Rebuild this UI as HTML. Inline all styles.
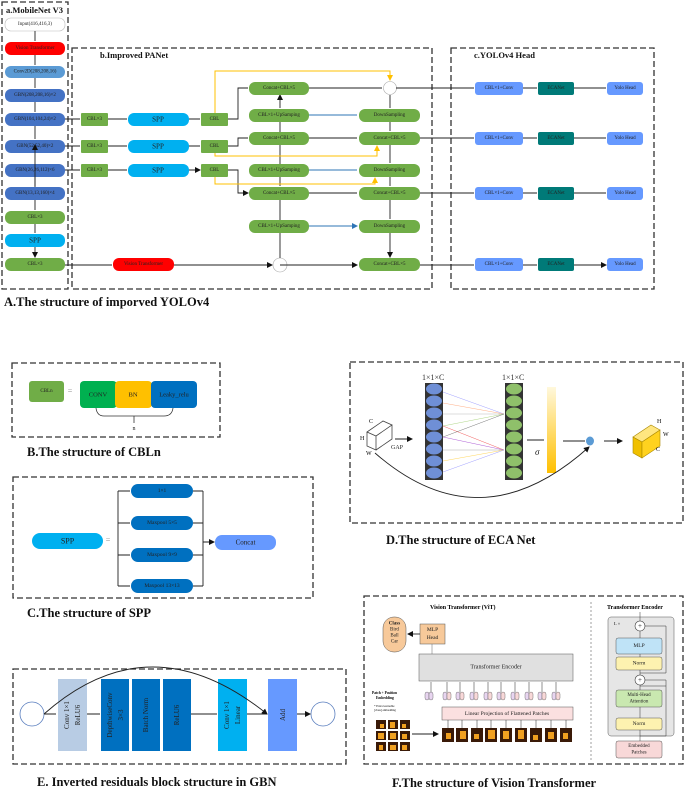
<!DOCTYPE html>
<html><head><meta charset="utf-8"><style>
html,body{margin:0;padding:0;background:#fff}
svg{display:block}
text{font-family:"Liberation Serif",serif}
.t{font-size:5px;fill:#222;text-anchor:middle;dominant-baseline:central}
.cap{font-size:12.5px;font-weight:bold;fill:#111}
.ttl{font-size:8.5px;font-weight:bold;fill:#111}
.d{fill:none;stroke:#333;stroke-width:1.3;stroke-dasharray:6,3}
.k{stroke:#222;stroke-width:0.9;fill:none}
.y{stroke:#ffc000;stroke-width:1;fill:none}
.b{stroke:#2e75b6;stroke-width:1;fill:none}
</style></head><body>
<svg width="685" height="789" viewBox="0 0 685 789" xmlns="http://www.w3.org/2000/svg">
<defs>
<marker id="a" markerWidth="6" markerHeight="6" refX="5" refY="3" orient="auto" markerUnits="userSpaceOnUse"><path d="M0,0L6,3L0,6z" fill="#111"/></marker>
<marker id="ay" markerWidth="6" markerHeight="6" refX="5" refY="3" orient="auto" markerUnits="userSpaceOnUse"><path d="M0,0L6,3L0,6z" fill="#ffc000"/></marker>
<marker id="ab" markerWidth="6" markerHeight="6" refX="5" refY="3" orient="auto" markerUnits="userSpaceOnUse"><path d="M0,0L6,3L0,6z" fill="#2e75b6"/></marker>
<linearGradient id="gy" x1="0" y1="0" x2="0" y2="1"><stop offset="0" stop-color="#fff8dc"/><stop offset="1" stop-color="#ffc000"/></linearGradient>
</defs>

<!-- A boxes -->
<rect class="d" x="2" y="2" width="66" height="287"/>
<rect class="d" x="72" y="48" width="360" height="241"/>
<rect class="d" x="451" y="48" width="203" height="241"/>
<text class="ttl" x="6" y="13">a.MobileNet V3</text>
<text class="ttl" x="100" y="58">b.Improved PANet</text>
<text class="ttl" x="474" y="58">c.YOLOv4 Head</text>

<!-- backbone column -->
<g>
<rect x="5" y="18" width="60" height="13" rx="6" fill="#fff" stroke="#bbb" stroke-width="0.6"/><text class="t" x="35" y="24.5">Input(416,416,3)</text>
<rect x="5" y="42" width="60" height="13" rx="6" fill="#ff0000"/><text class="t" x="35" y="48.5">Vision Transformer</text>
<rect x="5" y="66" width="60" height="12" rx="6" fill="#5b9bd5"/><text class="t" x="35" y="72">Conv2D(208,208,16)</text>
<rect x="5" y="89" width="60" height="13" rx="6" fill="#4472c4"/><text class="t" x="35" y="95.5">GBN(208,208,16)×2</text>
<rect x="5" y="113" width="60" height="13" rx="6" fill="#4472c4"/><text class="t" x="35" y="119.5">GBN(104,104,24)×2</text>
<rect x="5" y="140" width="60" height="13" rx="6" fill="#4472c4"/><text class="t" x="35" y="146.5">GBN(52,52,40)×2</text>
<rect x="5" y="164" width="60" height="13" rx="6" fill="#4472c4"/><text class="t" x="35" y="170.5">GBN(26,26,112)×6</text>
<rect x="5" y="187" width="60" height="13" rx="6" fill="#4472c4"/><text class="t" x="35" y="193.5">GBN(13,13,160)×4</text>
<rect x="5" y="211" width="60" height="13" rx="6" fill="#70ad47"/><text class="t" x="35" y="217.5">CBL×3</text>
<rect x="5" y="234" width="60" height="13" rx="6" fill="#00b0f0"/><text class="t" x="35" y="240.5" style="font-size:7px">SPP</text>
<rect x="5" y="258" width="60" height="13" rx="6" fill="#70ad47"/><text class="t" x="35" y="264.5">CBL×3</text>
<path class="k" d="M35,31V41M35,55V65M35,78V88M35,102V112M35,126V139M35,177V186M35,200V210M35,224V233M35,247V257" marker-end="url(#a)"/>
<path class="k" d="M35,187V145" marker-end="url(#a)"/>
</g>

<!-- PANet rows -->
<g>
<path class="k" d="M65,119H80M108,119H127M189,119H200M65,146H80M108,146H127M189,146H200M65,170H80M108,170H127M189,170H200" marker-end="url(#a)"/>
<rect x="81" y="113" width="27" height="13" rx="1" fill="#70ad47"/><text class="t" x="94.5" y="119.5">CBL×3</text>
<rect x="128" y="113" width="61" height="13" rx="6" fill="#00b0f0"/><text class="t" x="158" y="119.5" style="font-size:7px">SPP</text>
<rect x="201" y="113" width="27" height="13" rx="1" fill="#70ad47"/><text class="t" x="214.5" y="119.5">CBL</text>
<rect x="81" y="140" width="27" height="13" rx="1" fill="#70ad47"/><text class="t" x="94.5" y="146.5">CBL×3</text>
<rect x="128" y="140" width="61" height="13" rx="6" fill="#00b0f0"/><text class="t" x="158" y="146.5" style="font-size:7px">SPP</text>
<rect x="201" y="140" width="27" height="13" rx="1" fill="#70ad47"/><text class="t" x="214.5" y="146.5">CBL</text>
<rect x="81" y="164" width="27" height="13" rx="1" fill="#70ad47"/><text class="t" x="94.5" y="170.5">CBL×3</text>
<rect x="128" y="164" width="61" height="13" rx="6" fill="#00b0f0"/><text class="t" x="158" y="170.5" style="font-size:7px">SPP</text>
<rect x="201" y="164" width="27" height="13" rx="1" fill="#70ad47"/><text class="t" x="214.5" y="170.5">CBL</text>

<path class="k" d="M228,119H238V88H248M228,146H238V138H248M228,170H238V193H248" marker-end="url(#a)"/>
<path class="k" d="M65,265H112M174,265H272" marker-end="url(#a)"/>
<rect x="113" y="258" width="61" height="13" rx="6" fill="#ff0000"/><text class="t" x="143.5" y="264.5">Vision Transformer</text>
<circle cx="280" cy="265" r="7" fill="#fff" stroke="#aaa" stroke-width="0.6"/>
<path class="k" d="M280,258V233M280,220V200M280,186V177M280,164V145M280,132V122M280,108V95" marker-end="url(#a)"/>

<g fill="#70ad47">
<rect x="249" y="82" width="60" height="13" rx="6"/><rect x="249" y="109" width="60" height="13" rx="6"/>
<rect x="249" y="132" width="60" height="13" rx="6"/><rect x="249" y="164" width="60" height="13" rx="6"/>
<rect x="249" y="187" width="60" height="13" rx="6"/><rect x="249" y="220" width="60" height="13" rx="6"/>
<rect x="359" y="109" width="61" height="13" rx="6"/><rect x="359" y="132" width="61" height="13" rx="6"/>
<rect x="359" y="164" width="61" height="13" rx="6"/><rect x="359" y="187" width="61" height="13" rx="6"/>
<rect x="359" y="220" width="61" height="13" rx="6"/><rect x="359" y="258" width="61" height="13" rx="6"/>
</g>
<text class="t" x="279" y="88.5">Concat+CBL×5</text><text class="t" x="279" y="115.5">CBL×1+UpSamping</text>
<text class="t" x="279" y="138.5">Concat+CBL×5</text><text class="t" x="279" y="170.5">CBL×1+UpSamping</text>
<text class="t" x="279" y="193.5">Concat+CBL×5</text><text class="t" x="279" y="226.5">CBL×1+UpSamping</text>
<text class="t" x="389.5" y="115.5">DownSampling</text><text class="t" x="389.5" y="138.5">Concat+CBL×5</text>
<text class="t" x="389.5" y="170.5">DownSampling</text><text class="t" x="389.5" y="193.5">Concat+CBL×5</text>
<text class="t" x="389.5" y="226.5">DownSampling</text><text class="t" x="389.5" y="264.5">Concat+CBL×5</text>

<circle cx="390" cy="88" r="6.5" fill="#fff" stroke="#aaa" stroke-width="0.6"/>
<path class="y" d="M215,113V71H390V80" marker-end="url(#ay)"/>
<path class="y" d="M215,153V156H377V146" marker-end="url(#ay)"/>
<path class="y" d="M215,177V184H375V178" marker-end="url(#ay)"/>
<path class="b" d="M309,115H357M309,170H357M309,226H357" marker-end="url(#ab)"/>
<path class="k" d="M309,88H382M309,138H357M309,193H357M280,265H357" marker-end="url(#a)"/>
<path class="k" d="M390,95V108M390,122V131M390,145V163M390,177V186M390,200V219M390,233V257" marker-end="url(#a)"/>
</g>

<!-- head -->
<g>
<path class="k" d="M396,88H474M523,88H537M574,88H606M420,138H474M523,138H537M574,138H606M420,193H474M523,193H537M574,193H606M420,265H474M523,265H537M574,265H606" marker-end="url(#a)"/>
<g fill="#6699ff"><rect x="475" y="82" width="48" height="13" rx="3"/><rect x="475" y="132" width="48" height="13" rx="3"/><rect x="475" y="187" width="48" height="13" rx="3"/><rect x="475" y="258" width="48" height="13" rx="3"/>
<rect x="607" y="82" width="36" height="13" rx="3"/><rect x="607" y="132" width="36" height="13" rx="3"/><rect x="607" y="187" width="36" height="13" rx="3"/><rect x="607" y="258" width="36" height="13" rx="3"/></g>
<g fill="#007a78"><rect x="538" y="82" width="36" height="13" rx="2"/><rect x="538" y="132" width="36" height="13" rx="2"/><rect x="538" y="187" width="36" height="13" rx="2"/><rect x="538" y="258" width="36" height="13" rx="2"/></g>
<text class="t" x="499" y="88.5">CBL×1+Conv</text><text class="t" x="499" y="138.5">CBL×1+Conv</text><text class="t" x="499" y="193.5">CBL×1+Conv</text><text class="t" x="499" y="264.5">CBL×1+Conv</text>
<text class="t" x="556" y="88.5">ECANet</text><text class="t" x="556" y="138.5">ECANet</text><text class="t" x="556" y="193.5">ECANet</text><text class="t" x="556" y="264.5">ECANet</text>
<text class="t" x="625" y="88.5">Yolo Head</text><text class="t" x="625" y="138.5">Yolo Head</text><text class="t" x="625" y="193.5">Yolo Head</text><text class="t" x="625" y="264.5">Yolo Head</text>
</g>
<text class="cap" x="4" y="306">A.The structure of imporved YOLOv4</text>

<!-- B -->
<rect class="d" x="12" y="363" width="208" height="74"/>
<rect x="29" y="381" width="35" height="21" rx="3" fill="#70ad47"/><text class="t" x="46.5" y="391.5">CBLn</text>
<text class="t" x="70" y="391" style="font-size:8px;fill:#888">=</text>
<rect x="80" y="381" width="37" height="27" rx="4" fill="#00b050"/>
<rect x="115" y="381" width="37" height="27" rx="4" fill="#ffc000"/>
<rect x="151" y="381" width="46" height="27" rx="4" fill="#0070c0"/>
<text class="t" x="98" y="395" style="font-size:6.5px">CONV</text><text class="t" x="133" y="395" style="font-size:6.5px">BN</text><text class="t" x="174" y="395" style="font-size:6.5px">Leaky_relu</text>
<path d="M96,408Q97,416 104,416H164Q172,416 173,408M134,416V423" stroke="#333" stroke-width="0.8" fill="none"/>
<text class="t" x="134" y="429" style="font-size:6px">n</text>
<text class="cap" x="27" y="456">B.The structure of CBLn</text>

<!-- C -->
<rect class="d" x="13" y="477" width="300" height="121"/>
<rect x="32" y="533" width="71" height="16" rx="8" fill="#00b0f0"/><text class="t" x="67.5" y="541" style="font-size:8px">SPP</text>
<text class="t" x="108" y="540" style="font-size:8px;fill:#888">=</text>
<path class="k" d="M118,491V586M203,491V586M118,491H130M118,523H130M118,555H130M118,586H130M193,491H203M193,523H203M193,555H203M193,586H203M203,542H214" marker-end="url(#a)"/>
<g fill="#0070c0"><rect x="131" y="484" width="62" height="14" rx="7"/><rect x="131" y="516" width="62" height="14" rx="7"/><rect x="131" y="548" width="62" height="14" rx="7"/><rect x="131" y="579" width="62" height="14" rx="7"/></g>
<text class="t" x="162" y="491" style="font-size:5.5px">1×1</text><text class="t" x="162" y="523" style="font-size:5.5px">Maxpool 5×5</text>
<text class="t" x="162" y="555" style="font-size:5.5px">Maxpool 9×9</text><text class="t" x="162" y="586" style="font-size:5.5px">Maxpool 13×13</text>
<rect x="215" y="535" width="61" height="15" rx="7" fill="#6699ff"/><text class="t" x="245.5" y="542.5" style="font-size:7px">Concat</text>
<text class="cap" x="27" y="617">C.The structure of SPP</text>

<!-- D -->
<rect class="d" x="350" y="362" width="333" height="161"/>
<text x="422" y="380" style="font-size:8px;fill:#333">1×1×C</text><text x="502" y="380" style="font-size:8px;fill:#333">1×1×C</text>
<rect x="425" y="383" width="18" height="97" fill="#333"/>
<rect x="505" y="383" width="18" height="97" fill="#333"/>
<g fill="#6f8fd6"><ellipse cx="434" cy="389" rx="8" ry="5.5"/><ellipse cx="434" cy="401" rx="8" ry="5.5"/><ellipse cx="434" cy="413" rx="8" ry="5.5"/><ellipse cx="434" cy="425" rx="8" ry="5.5"/><ellipse cx="434" cy="437" rx="8" ry="5.5"/><ellipse cx="434" cy="449" rx="8" ry="5.5"/><ellipse cx="434" cy="461" rx="8" ry="5.5"/><ellipse cx="434" cy="473" rx="8" ry="5.5"/></g>
<g fill="#8fc06a"><ellipse cx="514" cy="389" rx="8" ry="5.5"/><ellipse cx="514" cy="401" rx="8" ry="5.5"/><ellipse cx="514" cy="413" rx="8" ry="5.5"/><ellipse cx="514" cy="425" rx="8" ry="5.5"/><ellipse cx="514" cy="437" rx="8" ry="5.5"/><ellipse cx="514" cy="449" rx="8" ry="5.5"/><ellipse cx="514" cy="461" rx="8" ry="5.5"/><ellipse cx="514" cy="473" rx="8" ry="5.5"/></g>
<g stroke-width="0.4" fill="none">
<path d="M443,392L504,414" stroke="#88f"/><path d="M443,403L504,414" stroke="#f96"/><path d="M443,414L504,414" stroke="#aaa"/><path d="M443,426L504,414" stroke="#9c6"/>
<path d="M443,426L504,450" stroke="#e33"/><path d="M443,437L504,414" stroke="#555"/><path d="M443,437L504,450" stroke="#93c"/><path d="M443,450L504,450" stroke="#999"/><path d="M443,461L504,450" stroke="#fc3"/><path d="M443,472L504,450" stroke="#88f"/>
</g>
<rect x="547" y="387" width="9" height="86" fill="url(#gy)"/>
<text x="535" y="455" style="font-size:9px;font-style:italic;fill:#222">σ</text>
<path class="k" d="M527,440H544M563,441H585M604,441H622" marker-end="url(#a)"/>
<ellipse cx="590" cy="441" rx="4" ry="4.5" fill="#5b9bd5"/>
<path class="k" d="M375,453Q480,545 589,447" marker-end="url(#a)"/>
<path class="k" d="M395,439H412" marker-end="url(#a)"/>
<text x="391" y="449" style="font-size:6px;fill:#222">GAP</text>
<!-- small cube -->
<path d="M367,432L383,421L392,425L376,436Z M367,432V446L376,450V436 M376,450L392,439V425" fill="#fff" stroke="#444" stroke-width="0.8"/>
<text x="369" y="423" style="font-size:6px">C</text><text x="360" y="440" style="font-size:6px">H</text><text x="366" y="455" style="font-size:6px">W</text>
<!-- yellow cube -->
<path d="M633,437L651,425L660,430L642,442Z" fill="#ffe680" stroke="#a80" stroke-width="0.6"/>
<path d="M633,437V453L642,458V442Z" fill="#f0c000" stroke="#a80" stroke-width="0.6"/>
<path d="M642,442L660,430V446L642,458Z" fill="#ffd21f" stroke="#a80" stroke-width="0.6"/>
<text x="657" y="423" style="font-size:6px">H</text><text x="663" y="436" style="font-size:6px">W</text><text x="656" y="451" style="font-size:6px">C</text>
<text class="cap" x="386" y="544">D.The structure of ECA Net</text>

<!-- E -->
<rect class="d" x="13" y="669" width="333" height="95"/>
<circle cx="32" cy="714" r="12" fill="#fff" stroke="#5b7fbf" stroke-width="0.8"/>
<circle cx="323" cy="714" r="12" fill="#fff" stroke="#5b7fbf" stroke-width="0.8"/>
<rect x="58" y="679" width="29" height="72" fill="#b8cce4"/>
<rect x="101" y="679" width="28" height="72" fill="#0070c0"/>
<rect x="132" y="679" width="28" height="72" fill="#0070c0"/>
<rect x="163" y="679" width="28" height="72" fill="#0070c0"/>
<rect x="218" y="679" width="29" height="72" fill="#00b0f0"/>
<rect x="268" y="679" width="29" height="72" fill="#6699ff"/>
<path class="k" d="M44,714H56M87,714H100M191,714H217M247,714H267M297,714H310" marker-end="url(#a)"/>
<path class="k" d="M44,714Q150,620 267,714" marker-end="url(#a)"/>
<g style="font-size:7px;fill:#222" text-anchor="middle">
<text transform="translate(69,715) rotate(-90)">Conv 1×1</text><text transform="translate(80,715) rotate(-90)">ReLU6</text>
<text transform="translate(112,715) rotate(-90)">DepthwiseConv</text><text transform="translate(123,715) rotate(-90)">3×3</text>
<text transform="translate(148,715) rotate(-90)">Batch Norm</text>
<text transform="translate(179,715) rotate(-90)">ReLU6</text>
<text transform="translate(229,715) rotate(-90)">Conv 1×1</text><text transform="translate(240,715) rotate(-90)">Linear</text>
<text transform="translate(285,715) rotate(-90)">Add</text>
</g>
<text class="cap" x="37" y="786">E. Inverted residuals block structure in GBN</text>

<!-- F -->
<rect class="d" x="364" y="596" width="319" height="168"/>
<path d="M591,602V760" stroke="#888" stroke-width="0.8" stroke-dasharray="2,2"/>
<text x="430" y="609" style="font-size:6px;font-weight:bold">Vision Transformer (ViT)</text>
<text x="607" y="609" style="font-size:6px;font-weight:bold">Transformer Encoder</text>
<rect x="383" y="617" width="23" height="35" rx="11" fill="#f7c99a" stroke="#555" stroke-width="0.5"/>
<text class="t" x="394.5" y="624" style="font-size:5px;font-weight:bold">Class</text><text class="t" x="394.5" y="630">Bird</text><text class="t" x="394.5" y="636">Ball</text><text class="t" x="394.5" y="642">Car</text>
<rect x="420" y="624" width="25" height="20" fill="#f7c99a" stroke="#555" stroke-width="0.5"/>
<text class="t" x="432.5" y="630" style="font-size:5.5px">MLP</text><text class="t" x="432.5" y="638" style="font-size:5.5px">Head</text>
<path class="k" d="M420,634H408" marker-end="url(#a)" stroke-width="0.6"/>
<path d="M432,644V654" stroke="#666" stroke-width="0.5"/>
<rect x="419" y="654" width="154" height="27" fill="#e0e0e0" stroke="#555" stroke-width="0.5"/>
<text class="t" x="496" y="667.5" style="font-size:6px">Transformer Encoder</text>
<g fill="#e8d5f0" stroke="#555" stroke-width="0.4">
<rect x="425" y="692" width="4" height="8" rx="2"/><rect x="429" y="692" width="4" height="8" rx="2"/>
<rect x="443" y="692" width="4" height="8" rx="2"/><rect x="456" y="692" width="4" height="8" rx="2"/><rect x="470" y="692" width="4" height="8" rx="2"/><rect x="484" y="692" width="4" height="8" rx="2"/><rect x="497" y="692" width="4" height="8" rx="2"/><rect x="511" y="692" width="4" height="8" rx="2"/><rect x="525" y="692" width="4" height="8" rx="2"/><rect x="538" y="692" width="4" height="8" rx="2"/><rect x="552" y="692" width="4" height="8" rx="2"/>
</g>
<g fill="#f8d8d8" stroke="#555" stroke-width="0.4">
<rect x="447" y="692" width="4" height="8" rx="2"/><rect x="460" y="692" width="4" height="8" rx="2"/><rect x="474" y="692" width="4" height="8" rx="2"/><rect x="488" y="692" width="4" height="8" rx="2"/><rect x="501" y="692" width="4" height="8" rx="2"/><rect x="515" y="692" width="4" height="8" rx="2"/><rect x="529" y="692" width="4" height="8" rx="2"/><rect x="542" y="692" width="4" height="8" rx="2"/><rect x="556" y="692" width="4" height="8" rx="2"/>
</g>
<path d="M431,692V682M447,692V682M460,692V682M474,692V682M488,692V682M501,692V682M515,692V682M529,692V682M542,692V682M556,692V682" stroke="#222" stroke-width="0.5"/>
<text x="372" y="694" style="font-size:3.6px;font-weight:bold">Patch + Position</text><text x="376" y="699" style="font-size:3.6px;font-weight:bold">Embedding</text>
<text x="374" y="707" style="font-size:3px">* Extra learnable</text><text x="374" y="711" style="font-size:3px">[class] embedding</text>
<rect x="442" y="707" width="131" height="13" fill="#fbe0e0" stroke="#555" stroke-width="0.5"/>
<text class="t" x="507" y="714" style="font-size:5.5px">Linear Projection of Flattened Patches</text>
<g fill="#3a1a08">
<rect x="442" y="728" width="12" height="14"/><rect x="456" y="728" width="12" height="14"/><rect x="471" y="728" width="12" height="14"/><rect x="485" y="728" width="12" height="14"/><rect x="500" y="728" width="12" height="14"/><rect x="515" y="728" width="12" height="14"/><rect x="530" y="728" width="12" height="14"/><rect x="545" y="728" width="12" height="14"/><rect x="560" y="728" width="12" height="14"/>
<rect x="376" y="720" width="10" height="9"/><rect x="388" y="720" width="10" height="9"/><rect x="400" y="720" width="10" height="9"/><rect x="376" y="731" width="10" height="9"/><rect x="388" y="731" width="10" height="9"/><rect x="400" y="731" width="10" height="9"/><rect x="376" y="742" width="10" height="9"/><rect x="388" y="742" width="10" height="9"/><rect x="400" y="742" width="10" height="9"/>
</g>
<g fill="#f0a020"><rect x="446" y="733" width="5" height="6"/><rect x="460" y="731" width="6" height="8"/><rect x="474" y="734" width="5" height="5"/><rect x="488" y="730" width="7" height="9"/><rect x="503" y="731" width="6" height="8"/><rect x="518" y="730" width="6" height="9"/><rect x="533" y="735" width="5" height="5"/><rect x="548" y="732" width="6" height="7"/><rect x="563" y="733" width="5" height="6"/>
<rect x="380" y="724" width="4" height="4"/><rect x="390" y="722" width="5" height="6"/><rect x="402" y="724" width="4" height="4"/><rect x="378" y="733" width="6" height="6"/><rect x="390" y="733" width="6" height="6"/><rect x="402" y="734" width="5" height="5"/><rect x="379" y="745" width="4" height="5"/><rect x="390" y="745" width="6" height="5"/><rect x="402" y="745" width="5" height="5"/></g>
<path d="M448,728V720M462,728V720M477,728V720M491,728V720M506,728V720M521,728V720M536,728V720M551,728V720M566,728V720" stroke="#222" stroke-width="0.5"/>
<path class="k" d="M412,734H438" stroke-width="0.5" marker-end="url(#a)"/>
<!-- encoder detail -->
<rect x="608" y="617" width="66" height="119" rx="3" fill="#e6e6e6" stroke="#555" stroke-width="0.5"/>
<text x="614" y="625" style="font-size:4.5px">L ×</text>
<circle cx="640" cy="626" r="5" fill="#fff" stroke="#333" stroke-width="0.6"/><text class="t" x="640" y="626" style="font-size:7px">+</text>
<circle cx="640" cy="680" r="5" fill="#fff" stroke="#333" stroke-width="0.6"/><text class="t" x="640" y="680" style="font-size:7px">+</text>
<rect x="616" y="638" width="46" height="16" rx="2" fill="#bfe3f7" stroke="#555" stroke-width="0.5"/><text class="t" x="639" y="646" style="font-size:5.5px">MLP</text>
<rect x="616" y="657" width="46" height="13" rx="2" fill="#fdf2b0" stroke="#555" stroke-width="0.5"/><text class="t" x="639" y="663.5" style="font-size:5.5px">Norm</text>
<rect x="616" y="690" width="46" height="17" rx="2" fill="#c9e8b0" stroke="#555" stroke-width="0.5"/><text class="t" x="639" y="695.5" style="font-size:5px">Multi-Head</text><text class="t" x="639" y="702" style="font-size:5px">Attention</text>
<rect x="616" y="718" width="46" height="12" rx="2" fill="#fdf2b0" stroke="#555" stroke-width="0.5"/><text class="t" x="639" y="724" style="font-size:5.5px">Norm</text>
<rect x="616" y="741" width="46" height="17" rx="2" fill="#f8d8d8" stroke="#555" stroke-width="0.5"/><text class="t" x="639" y="746.5" style="font-size:5px">Embedded</text><text class="t" x="639" y="753" style="font-size:5px">Patches</text>
<path d="M640,741V730M640,718V707M640,690V685M640,675V670M640,657V654M640,638V631M640,621V612M640,736H666V680H645M640,686H666M640,673H666V626H645" stroke="#333" stroke-width="0.5" fill="none"/>
<text class="cap" x="392" y="787">F.The structure of Vision Transformer</text>
</svg>
</body></html>
